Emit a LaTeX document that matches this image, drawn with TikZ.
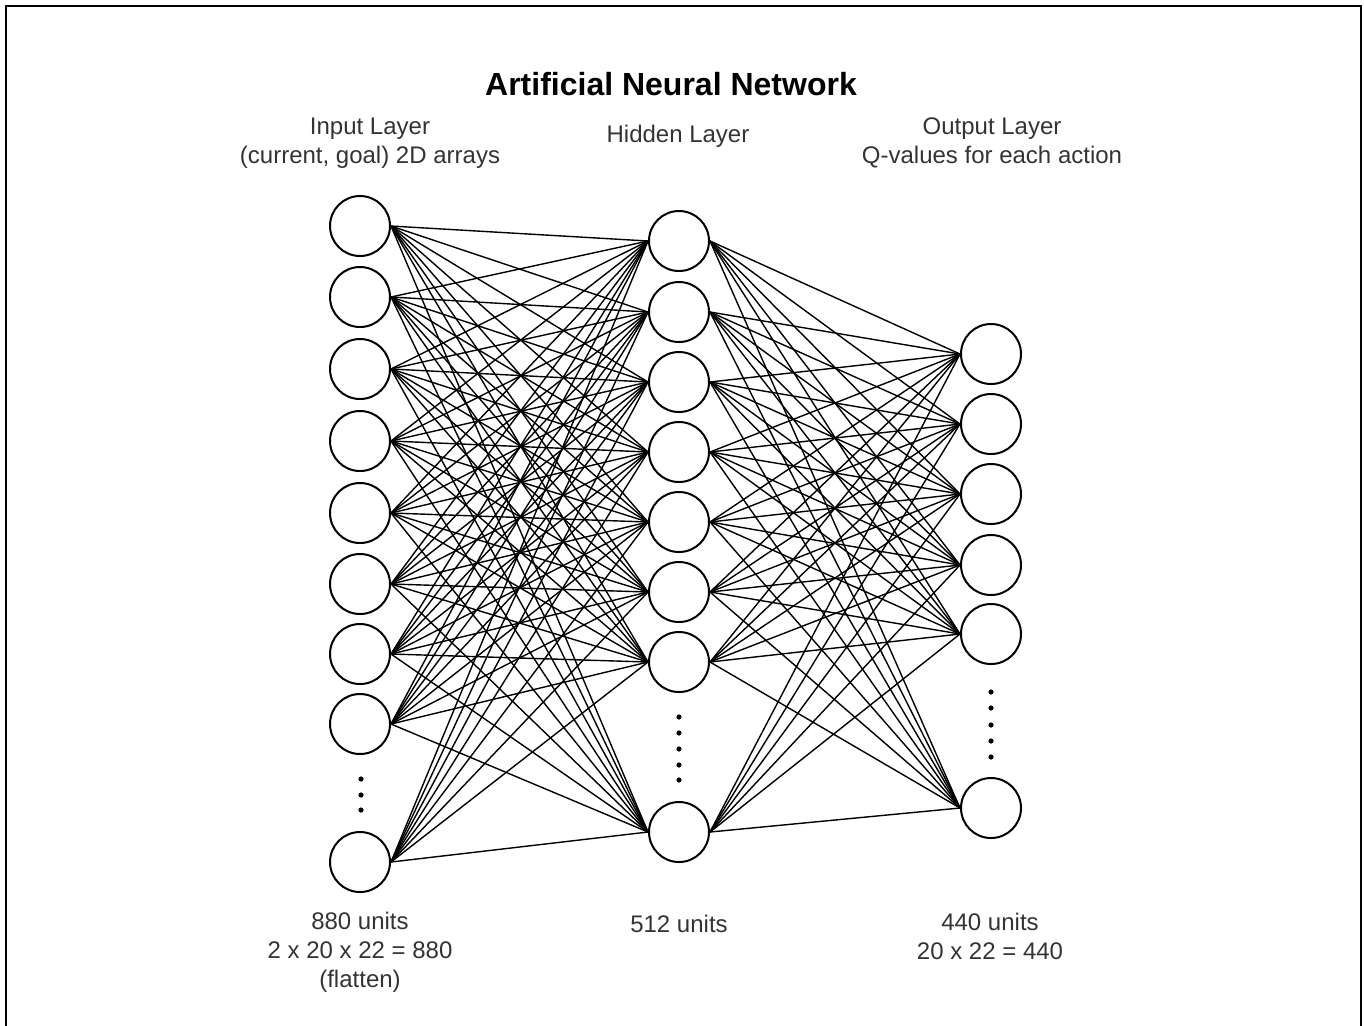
\documentclass[tikz,border=0pt]{standalone}
\usepackage{fontspec}
\setmainfont{Liberation Sans}
\definecolor{txt}{HTML}{333333}
\begin{document}
\begin{tikzpicture}[x=0.5pt,y=-0.5pt,
  neuron/.style={circle,draw=black,line width=1pt,fill=white,minimum size=30pt,inner sep=0pt},
  synapse/.style={line width=0.7pt,black},
  label/.style={text=txt,font=\fontsize{12}{14.5}\selectfont,align=center,inner sep=0pt},
  heading/.style={text=black,font=\bfseries\fontsize{16}{19}\selectfont,inner sep=0pt},
  dot/.style={circle,fill=black,inner sep=0pt,minimum size=2.6pt}]
\useasboundingbox (0,0) rectangle (1364,1025);
\draw[line width=1pt] (6,1030) -- (6,6) -- (1361,6) -- (1361,1030);

% neurons
\foreach \y [count=\k] in {226,297,369,441,513,584,654,724,862}
  \node[neuron] (i\k) at (360,\y) {};
\foreach \y [count=\k] in {241,312,382,452,522,592,662,832}
  \node[neuron] (h\k) at (679,\y) {};
\foreach \y [count=\k] in {354,424,494,565,634,808}
  \node[neuron] (o\k) at (991,\y) {};

% fully connected weights
\foreach \a in {1,...,9}
  \foreach \b in {1,...,8}
    \draw[synapse] (i\a.east) -- (h\b.west);
\foreach \a in {1,...,8}
  \foreach \b in {1,...,6}
    \draw[synapse] (h\a.east) -- (o\b.west);

% ellipsis dots
\foreach \y [count=\k] in {779,795,810} \node[dot] (di\k) at (361,\y) {};
\foreach \y [count=\k] in {717,733,749,765,780} \node[dot] (dh\k) at (679,\y) {};
\foreach \y [count=\k] in {692,708,725,741,757} \node[dot] (do\k) at (991,\y) {};

% titles and captions
\node[heading] (title) at (671,84) {Artificial Neural Network};
\node[label] (tin) at (370,143) {Input Layer\\(current, goal) 2D arrays};
\node[label] (thid) at (678,136) {Hidden Layer};
\node[label] (tout) at (992,143) {Output Layer\\Q-values for each action};
\node[label] (cin) at (360,952) {880 units\\2 x 20 x 22 = 880\\(flatten)};
\node[label] (chid) at (679,924) {512 units};
\node[label] (cout) at (990,936) {440 units\\20 x 22 = 440};
\end{tikzpicture}
\end{document}
